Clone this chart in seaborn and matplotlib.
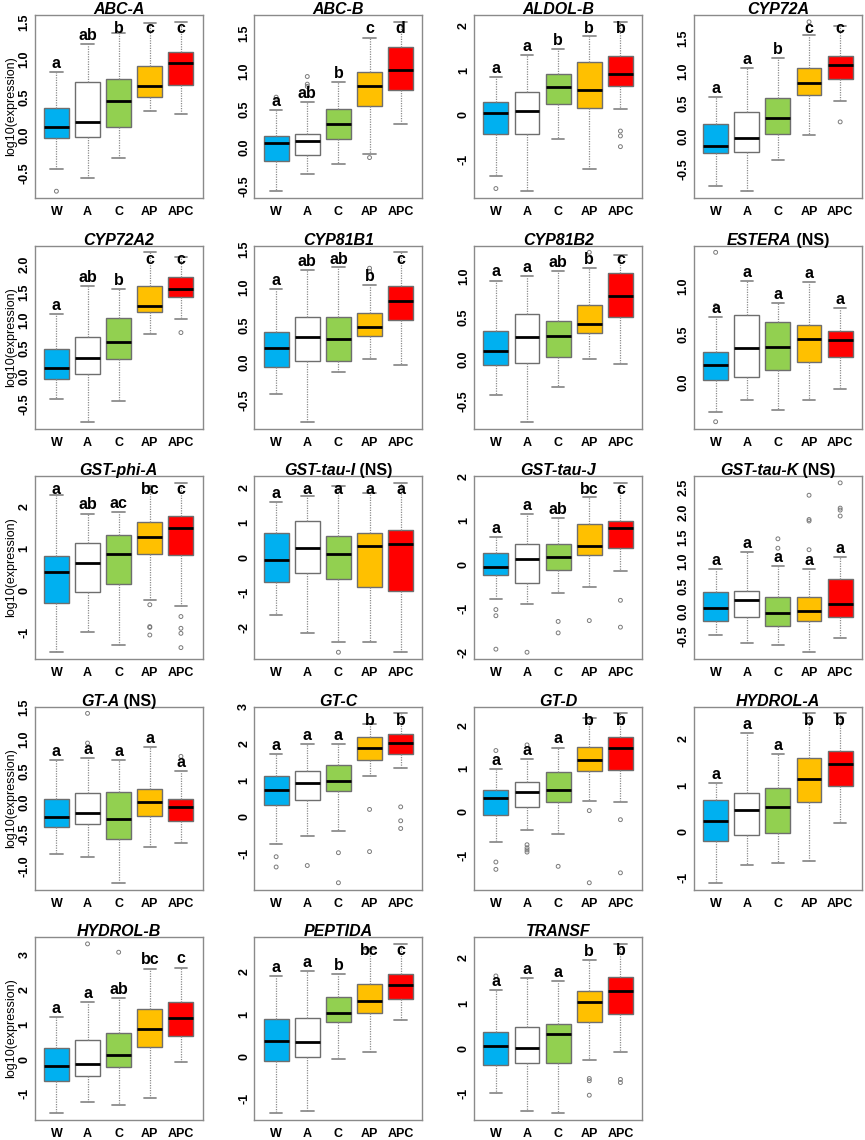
import matplotlib
matplotlib.use("Agg")
import matplotlib.pyplot as plt
import matplotlib.transforms as mtransforms
from matplotlib.ticker import MultipleLocator, FormatStrFormatter
from matplotlib.offsetbox import TextArea, HPacker, AnchoredOffsetbox
import seaborn as sns
import pandas as pd

sns.set_style("white")
plt.rcParams['font.family'] = ['Liberation Sans', 'DejaVu Sans']
plt.rcParams['axes.unicode_minus'] = False
plt.rcParams['text.color'] = 'black'
plt.rcParams['axes.labelcolor'] = 'black'
plt.rcParams['xtick.color'] = 'black'
plt.rcParams['ytick.color'] = 'black'

# groups and box colours
GROUPS = ["W", "A", "C", "AP", "APC"]
COLORS = {"W": "#00B0F0", "A": "#FFFFFF", "C": "#92D050", "AP": "#FFC000", "APC": "#FF0000"}

GENES = ["ABC-A", "ABC-B", "ALDOL-B", "CYP72A", "CYP72A2", "CYP81B1", "CYP81B2", "ESTERA",
         "GST-phi-A", "GST-tau-I", "GST-tau-J", "GST-tau-K", "GT-A", "GT-C", "GT-D",
         "HYDROL-A", "HYDROL-B", "PEPTIDA", "TRANSF"]
NOT_SIGNIF = ["ESTERA", "GST-tau-I", "GST-tau-K", "GT-A"]

# five-number summaries (W, A, C, AP, APC)
LOWER = [
    [-0.45, -0.56, -0.30, 0.32, 0.28],
    [-0.57, -0.34, -0.21, -0.083, 0.31],
    [-1.36, -1.71, -0.53, -1.21, 0.14],
    [-0.76, -0.84, -0.36, 0.02, 0.54],
    [-0.42, -0.82, -0.44, 0.75, 1.02],
    [-0.41, -0.78, -0.116, 0.05, -0.036],
    [-0.42, -0.74, -0.32, 0.004, -0.048],
    [-0.32, -0.19, -0.30, -0.19, -0.08],
    [-1.47, -0.98, -1.29, -0.23, -0.38],
    [-1.66, -2.18, -2.42, -2.42, -2.72],
    [-0.79, -0.89, -0.64, -0.51, -0.15],
    [-0.49, -0.64, -0.69, -0.83, -0.55],
    [-0.82, -0.87, -1.27, -0.71, -0.64],
    [-0.75, -0.53, -0.40, 1.12, 1.34],
    [-0.69, -0.41, -0.52, 0.256, 0.22],
    [-1.11, -0.73, -0.69, -0.65, 0.18],
    [-1.56, -1.23, -1.32, -1.125, -0.077],
    [-1.36, -1.31, -0.073, 0.098, 0.86],
    [-0.985, -1.39, -1.44, -0.27, -0.074],
]
Q1 = [
    [-0.04, -0.02, 0.115, 0.505, 0.665],
    [-0.17, -0.10, 0.114, 0.54, 0.76],
    [-0.43, -0.43, 0.24, 0.15, 0.66],
    [-0.26, -0.24, 0.03, 0.63, 0.88],
    [-0.055, 0.04, 0.30, 1.145, 1.41],
    [-0.058, 0.018, 0.018, 0.35, 0.56],
    [-0.068, -0.036, 0.032, 0.32, 0.51],
    [0.02, 0.053, 0.12, 0.205, 0.26],
    [-0.31, -0.03, 0.15, 0.87, 0.85],
    [-0.70, -0.45, -0.63, -0.84, -0.95],
    [-0.23, -0.41, -0.12, 0.21, 0.37],
    [-0.19, -0.12, -0.29, -0.196, -0.115],
    [-0.39, -0.34, -0.57, -0.22, -0.29],
    [0.31, 0.46, 0.69, 1.56, 1.70],
    [-0.062, 0.116, 0.23, 0.94, 0.97],
    [-0.20, -0.07, -0.03, 0.625, 0.99],
    [-0.63, -0.48, -0.23, 0.34, 0.67],
    [-0.11, -0.024, 0.80, 1.02, 1.36],
    [-0.38, -0.326, -0.333, 0.58, 0.75],
]
MEDIAN = [
    [0.11, 0.18, 0.45, 0.65, 0.95],
    [0.057, 0.083, 0.31, 0.81, 1.01],
    [0.045, 0.09, 0.62, 0.57, 0.91],
    [-0.144, -0.02, 0.28, 0.81, 1.09],
    [0.15, 0.33, 0.61, 1.25, 1.57],
    [0.20, 0.34, 0.32, 0.47, 0.82],
    [0.10, 0.276, 0.284, 0.43, 0.76],
    [0.18, 0.35, 0.37, 0.45, 0.44],
    [0.44, 0.66, 0.87, 1.26, 1.49],
    [-0.087, 0.27, 0.106, 0.33, 0.39],
    [-0.06, 0.12, 0.18, 0.435, 0.84],
    [0.06, 0.216, -0.034, 0.007, 0.135],
    [-0.23, -0.16, -0.26, 0.0, -0.074],
    [0.72, 0.915, 0.97, 1.88, 2.01],
    [0.31, 0.45, 0.50, 1.19, 1.47],
    [0.23, 0.465, 0.53, 1.13, 1.46],
    [-0.19, -0.14, 0.125, 0.875, 1.19],
    [0.37, 0.34, 1.03, 1.31, 1.70],
    [0.044, 0.007, 0.326, 1.03, 1.27],
]
Q3 = [
    [0.36, 0.70, 0.745, 0.92, 1.10],
    [0.15, 0.18, 0.51, 0.99, 1.31],
    [0.29, 0.51, 0.92, 1.19, 1.32],
    [0.19, 0.37, 0.59, 1.05, 1.23],
    [0.48, 0.70, 1.04, 1.61, 1.78],
    [0.40, 0.61, 0.60, 0.66, 1.02],
    [0.34, 0.55, 0.464, 0.65, 1.03],
    [0.31, 0.70, 0.63, 0.60, 0.53],
    [0.83, 1.14, 1.32, 1.63, 1.77],
    [0.69, 1.04, 0.62, 0.705, 0.79],
    [0.275, 0.47, 0.47, 0.92, 0.985],
    [0.385, 0.405, 0.29, 0.29, 0.655],
    [0.053, 0.15, 0.165, 0.21, 0.05],
    [1.11, 1.235, 1.40, 2.18, 2.27],
    [0.51, 0.70, 0.915, 1.51, 1.73],
    [0.67, 0.82, 0.94, 1.585, 1.74],
    [0.33, 0.55, 0.74, 1.43, 1.625],
    [0.88, 0.906, 1.41, 1.71, 1.95],
    [0.363, 0.46, 0.533, 1.27, 1.58],
]
UPPER = [
    [0.84, 1.21, 1.35, 1.48, 1.50],
    [0.49, 0.60, 0.855, 1.44, 1.645],
    [0.86, 1.34, 1.48, 1.77, 2.09],
    [0.596, 1.04, 1.20, 1.55, 1.68],
    [1.115, 1.61, 1.56, 2.22, 2.13],
    [0.97, 1.23, 1.27, 1.03, 1.46],
    [0.944, 1.0, 1.06, 1.09, 1.25],
    [0.68, 1.06, 0.83, 1.05, 0.77],
    [2.26, 1.83, 1.87, 2.48, 2.56],
    [1.58, 1.76, 2.06, 1.85, 2.14],
    [0.63, 1.16, 1.07, 1.54, 1.86],
    [0.845, 1.20, 0.905, 0.845, 1.09],
    [0.665, 0.70, 0.665, 0.87, 0.50],
    [1.72, 1.98, 1.98, 2.52, 2.82],
    [0.985, 1.22, 1.49, 2.17, 2.28],
    [1.05, 2.12, 1.67, 2.55, 2.55],
    [1.21, 1.64, 1.76, 2.60, 2.63],
    [1.91, 2.03, 1.96, 2.54, 2.67],
    [1.29, 1.56, 1.49, 1.95, 2.31],
]
OUTLIERS = [
    [[-0.74], [], [], [], []],
    [[0.66], [0.80, 0.83, 0.93], [], [-0.13], []],
    [[-1.65], [], [], [], [-0.36, -0.47, -0.71]],
    [[], [], [], [1.75], [0.22]],
    [[], [], [], [], [0.78]],
    [[], [], [], [1.21, 1.25], []],
    [[], [], [], [1.28], []],
    [[-0.42, 0.80, 1.36], [], [], [], []],
    [[], [], [], [-0.34, -0.86, -0.88, -1.06], [-0.62, -0.90, -1.02, -1.36]],
    [[], [], [-2.72], [], []],
    [[-1.02, -1.16, -1.92], [-1.99], [-1.29, -1.55], [-1.27], [-0.81, -1.42]],
    [[], [], [1.27, 1.46], [1.24, 1.82, 1.85, 2.34], [1.92, 2.04, 2.08, 2.59]],
    [[], [0.94, 1.41], [], [], [0.73]],
    [[-1.09, -1.37], [-1.33], [-0.98, -1.80], [0.20, -0.95], [0.27, -0.11, -0.32]],
    [[1.42, -1.16, -1.33], [1.55, -0.76, -0.83, -0.88, -0.93], [-1.26], [0.03, -1.64], [-0.18, -1.41]],
    [[], [], [], [], []],
    [[], [3.31], [3.07], [], []],
    [[], [], [], [], []],
    [[1.60], [], [], [-0.67, -0.72, -1.04], [-0.69, -0.76]],
]
LETTERS = [
    ["a", "ab", "b", "c", "c"],
    ["a", "ab", "b", "c", "d"],
    ["a", "a", "b", "b", "b"],
    ["a", "a", "b", "c", "c"],
    ["a", "ab", "b", "c", "c"],
    ["a", "ab", "ab", "b", "c"],
    ["a", "a", "ab", "b", "c"],
    ["a", "a", "a", "a", "a"],
    ["a", "ab", "ac", "bc", "c"],
    ["a", "a", "a", "a", "a"],
    ["a", "a", "ab", "bc", "c"],
    ["a", "a", "a", "a", "a"],
    ["a", "a", "a", "a", "a"],
    ["a", "a", "a", "b", "b"],
    ["a", "a", "a", "b", "b"],
    ["a", "a", "a", "b", "b"],
    ["a", "a", "ab", "bc", "c"],
    ["a", "a", "b", "bc", "c"],
    ["a", "a", "a", "b", "b"],
]
TICK_STEP = [0.5, 0.5, 1, 0.5, 0.5, 0.5, 0.5, 0.5, 1, 1, 1, 0.5, 0.5, 1, 1, 1, 1, 1, 1]

FRAME = "#8a8a8a"

fig, axes = plt.subplots(5, 4, figsize=(8.65, 11.4), dpi=100)
fig.subplots_adjust(left=0.040, right=0.9965, top=0.9868, bottom=0.0175,
                    wspace=0.307, hspace=0.26)
axes = axes.ravel()

for i, gene in enumerate(GENES):
    ax = axes[i]

    # long table with the five summary values per group
    rows = []
    for g, grp in enumerate(GROUPS):
        for v in (LOWER[i][g], Q1[i][g], MEDIAN[i][g], Q3[i][g], UPPER[i][g]):
            rows.append({"group": grp, "value": v})
    df = pd.DataFrame(rows)

    sns.boxplot(data=df, x="group", y="value", hue="group", order=GROUPS,
                hue_order=GROUPS, palette=COLORS, legend=False, saturation=1,
                whis=(0, 100), width=0.8, showfliers=False,
                linecolor="#6e6e6e", linewidth=1.0,
                medianprops=dict(color="black", linewidth=2.0),
                whiskerprops=dict(color="#8c8c8c", linestyle=(0, (1, 1)), linewidth=0.9),
                capprops=dict(color="#8c8c8c", linewidth=1.3),
                capwidths=0.4, ax=ax)

    out_rows = [{"group": grp, "value": v}
                for g, grp in enumerate(GROUPS) for v in OUTLIERS[i][g]]
    if out_rows:
        sns.stripplot(data=pd.DataFrame(out_rows), x="group", y="value", order=GROUPS,
                      jitter=False, size=2.8, color="#7a7a7a", facecolor="none",
                      edgecolor="#7a7a7a", linewidth=0.7, ax=ax)

    # R-like limits: data range plus 4%
    all_vals = LOWER[i] + UPPER[i] + [v for o in OUTLIERS[i] for v in o]
    lo, hi = min(all_vals), max(all_vals)
    pad = 0.04 * (hi - lo)
    ylo, yhi = lo - pad, hi + pad
    ax.set_ylim(ylo, yhi)
    ax.set_xlim(-0.7, 4.7)

    step = TICK_STEP[i]
    ax.yaxis.set_major_locator(MultipleLocator(step))
    ax.yaxis.set_major_formatter(FormatStrFormatter("%.1f" if step < 1 else "%d"))

    ax.set_xlabel("")
    if i % 4 == 0:
        ax.set_ylabel("log10(expression)", fontsize=9)
        ax.yaxis.set_label_coords(-0.105, 0.5)
    else:
        ax.set_ylabel("")

    for sp in ax.spines.values():
        sp.set_visible(True)
        sp.set_color(FRAME)
        sp.set_linewidth(1.0)
    ax.tick_params(axis="both", which="major", direction="out", length=4, width=0.8,
                   color=FRAME, labelcolor="black")
    ax.tick_params(axis="x", labelsize=9, pad=2)
    ax.tick_params(axis="y", labelsize=9, labelrotation=90, pad=-1)
    for lab in ax.get_xticklabels():
        lab.set_fontweight("bold")
    for lab in ax.get_yticklabels():
        lab.set_fontweight("bold")
        lab.set_va("center")

    # significance letters above the upper whisker
    trans = mtransforms.blended_transform_factory(ax.transData, ax.transAxes)
    for g, let in enumerate(LETTERS[i]):
        frac = (UPPER[i][g] - ylo) / (yhi - ylo) + 0.047
        ax.text(g, min(frac, 0.925), let, transform=trans, ha="center", va="center",
                fontsize=11.5, fontweight="bold", color="black")

    # title: italic gene name, plain "(NS)"
    parts = [TextArea(gene, textprops=dict(fontsize=11.5, fontweight="bold",
                                           fontstyle="italic", color="black"))]
    if gene in NOT_SIGNIF:
        parts.append(TextArea(" (NS)", textprops=dict(fontsize=11.5, fontweight="bold",
                                                      color="black")))
    title_box = AnchoredOffsetbox(loc="lower center", child=HPacker(children=parts, pad=0, sep=0),
                                  bbox_to_anchor=(0.5, 0.988), bbox_transform=ax.transAxes,
                                  frameon=False, pad=0, borderpad=0.0)
    ax.add_artist(title_box)

axes[-1].axis("off")

fig.savefig("out.png", dpi=100)
